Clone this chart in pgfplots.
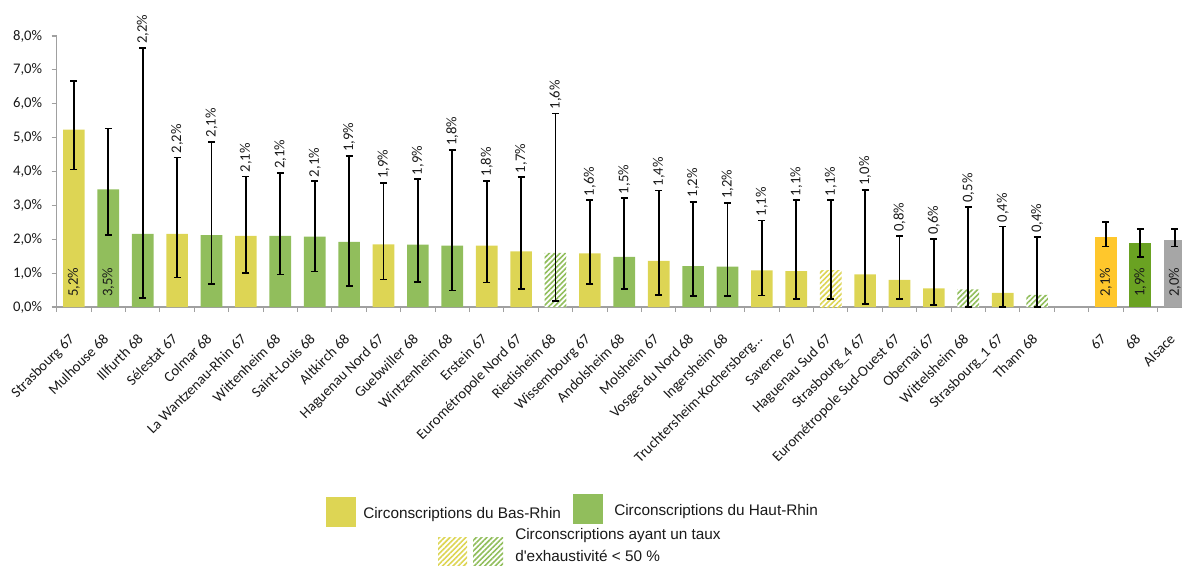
\documentclass[border=0pt]{standalone}
\usepackage{fontspec}
\setmainfont{Carlito}
\newfontfamily\legfont{Liberation Sans}
\usepackage{pgfplots}
\pgfplotsset{compat=1.18}
\usepackage{pgfplotstable}
\usetikzlibrary{patterns.meta}

\definecolor{cyel}{RGB}{221,213,84}
\definecolor{cgrn}{RGB}{145,190,92}
\definecolor{c67}{RGB}{255,199,44}
\definecolor{c68}{RGB}{106,162,34}
\definecolor{cals}{RGB}{166,166,166}
\definecolor{caxis}{RGB}{160,160,160}
\definecolor{ctxt}{RGB}{25,25,25}

% bars: x = category position, y = value (%), ep/em = error bar extent above/below (%)
\pgfplotstableread{
x y ep em
0 5.24 1.44 1.18
3 2.16 2.25 1.29
5 2.10 1.75 1.10
9 1.85 1.81 1.04
12 1.81 1.92 1.09
13 1.64 2.19 1.10
15 1.58 1.57 0.90
17 1.36 2.08 1.00
20 1.08 1.47 0.74
21 1.06 2.09 0.83
23 0.96 2.50 0.87
24 0.80 1.29 0.57
25 0.55 1.46 0.49
27 0.42 1.96 0.42
}\yellowtab
\pgfplotstableread{
x y ep em
1 3.47 1.80 1.34
2 2.16 5.48 1.89
4 2.12 2.76 1.44
6 2.10 1.85 1.14
7 2.08 1.63 1.03
8 1.92 2.54 1.30
10 1.84 1.93 1.10
11 1.81 2.82 1.32
16 1.48 1.73 0.95
18 1.21 1.90 0.89
19 1.19 1.88 0.87
}\greentab
\pgfplotstableread{
x y ep em
22 1.07 2.08 0.84
}\yellowhatch
\pgfplotstableread{
x y ep em
14 1.60 4.11 1.42
26 0.52 2.44 0.52
28 0.36 1.70 0.36
}\greenhatch
\pgfplotstableread{
x y ep em
30 2.08 0.44 0.29
}\tabA
\pgfplotstableread{
x y ep em
31 1.90 0.40 0.43
}\tabB
\pgfplotstableread{
x y ep em
32 1.99 0.31 0.20
}\tabC
% labels above the error bars (t = top of the error bar)
\pgfplotstableread{
x t lab
2 7.64 2,2
3 4.41 2,2
4 4.88 2,1
5 3.85 2,1
6 3.95 2,1
7 3.71 2,1
8 4.46 1,9
9 3.66 1,9
10 3.77 1,9
11 4.63 1,8
12 3.73 1,8
13 3.83 1,7
14 5.71 1,6
15 3.15 1,6
16 3.21 1,5
17 3.44 1,4
18 3.11 1,2
19 3.07 1,2
20 2.55 1,1
21 3.15 1,1
22 3.15 1,1
23 3.46 1,0
24 2.09 0,8
25 2.01 0,6
26 2.96 0,5
27 2.38 0,4
28 2.06 0,4
}\toplabels
% labels inside the bars
\pgfplotstableread{
x b lab
0 0 5,2
1 0 3,5
30 0 2,1
31 0 1,9
32 0 2,0
}\inlabels

\pgfplotsset{
  errbars/.style={
    error bars/.cd, y dir=both, y explicit, error mark=-,
    error bar style={draw=black, line width=1.3pt},
    error mark options={draw=black, line width=1.3pt, mark size=2.6pt, rotate=90}
  },
  bartab/.style={ybar, bar width=0.63, bar shift=0pt, draw=none},
}

\begin{document}
\begin{tikzpicture}
\begin{axis}[
  at={(42.525pt,-230.25pt)}, anchor=south west,
  scale only axis, width=851.4pt, height=203.25pt,
  xmin=-0.5, xmax=32.5, ymin=0, ymax=8,
  axis x line*=bottom, axis y line*=left,
  axis line style={caxis, line width=0.9pt},
  xtick={0,...,32},
  xticklabels={Strasbourg 67, Mulhouse 68, Illfurth 68, Sélestat 67, Colmar 68,
    La Wantzenau-Rhin 67, Wittenheim 68, Saint-Louis 68, Altkirch 68, Haguenau Nord 67,
    Guebwiller 68, Wintzenheim 68, Erstein 67, Eurométropole Nord 67, Riedisheim 68,
    Wissembourg 67, Andolsheim 68, Molsheim 67, Vosges du Nord 68, Ingersheim 68,
    Truchtersheim-Kochersberg…, Saverne 67, Haguenau Sud 67, Strasbourg\_4 67,
    Eurométropole Sud-Ouest 67, Obernai 67, Wittelsheim 68, Strasbourg\_1 67, Thann 68,
    {}, 67, 68, Alsace},
  minor xtick={-0.5,0.5,...,32.5},
  major x tick style={draw=none},
  minor x tick style={caxis, line width=0.8pt},
  ytick={0,1,2,3,4,5,6,7,8},
  yticklabels={{0,0\%},{1,0\%},{2,0\%},{3,0\%},{4,0\%},{5,0\%},{6,0\%},{7,0\%},{8,0\%}},
  y tick style={caxis, line width=0.8pt},
  tick align=outside, major tick length=3.75pt, minor tick length=3.75pt,
  x tick label style={font=\fontsize{11pt}{12pt}\selectfont, text=ctxt, anchor=north east, inner sep=0pt, xshift=-4.5pt, yshift=-15.5pt, rotate=45},
  y tick label style={font=\fontsize{11pt}{12pt}\selectfont, text=ctxt, anchor=east, inner sep=0pt, xshift=-7pt},
  clip=false,
]
\addplot[bartab, fill=cyel, errbars] table[x=x, y=y, y error plus=ep, y error minus=em] {\yellowtab};
\addplot[bartab, fill=cgrn, errbars] table[x=x, y=y, y error plus=ep, y error minus=em] {\greentab};
\addplot[bartab, fill=white, postaction={pattern={Lines[angle=45,distance=2.8pt,line width=1.2pt]}, pattern color=cyel}, errbars] table[x=x, y=y, y error plus=ep, y error minus=em] {\yellowhatch};
\addplot[bartab, fill=white, postaction={pattern={Lines[angle=45,distance=2.8pt,line width=1.2pt]}, pattern color=cgrn}, errbars] table[x=x, y=y, y error plus=ep, y error minus=em] {\greenhatch};
\addplot[bartab, fill=c67, errbars] table[x=x, y=y, y error plus=ep, y error minus=em] {\tabA};
\addplot[bartab, fill=c68, errbars] table[x=x, y=y, y error plus=ep, y error minus=em] {\tabB};
\addplot[bartab, fill=cals, errbars] table[x=x, y=y, y error plus=ep, y error minus=em] {\tabC};
\addplot[only marks, mark=none, point meta=explicit symbolic,
  nodes near coords={\pgfplotspointmeta\%},
  nodes near coords style={font=\fontsize{11pt}{12pt}\selectfont, text=ctxt, rotate=90, anchor=west, inner xsep=3pt, inner ysep=0pt}]
  table[x=x, y=t, meta=lab] {\toplabels};
\addplot[only marks, mark=none, point meta=explicit symbolic,
  nodes near coords={\pgfplotspointmeta\%},
  nodes near coords style={font=\fontsize{11pt}{12pt}\selectfont, text=ctxt, rotate=90, anchor=west, inner xsep=7.5pt, inner ysep=0pt}]
  table[x=x, y=b, meta=lab] {\inlabels};
\end{axis}
\begin{scope}[x=0.75pt, y=-0.75pt]
  \fill[cyel] (326,497) rectangle (356,527);
  \node[anchor=base west, inner sep=0pt, font=\legfont\fontsize{11.5pt}{13pt}\selectfont, text=ctxt] at (363,518.3) {Circonscriptions du Bas-Rhin};
  \fill[cgrn] (573,494) rectangle (603,524);
  \node[anchor=base west, inner sep=0pt, font=\legfont\fontsize{11.5pt}{13pt}\selectfont, text=ctxt] at (614,515) {Circonscriptions du Haut-Rhin};
  \fill[pattern={Lines[angle=45,distance=2.8pt,line width=1.2pt]}, pattern color=cyel] (438,537) rectangle (467,567);
  \fill[pattern={Lines[angle=45,distance=2.8pt,line width=1.2pt]}, pattern color=cgrn] (473,537) rectangle (503,567);
  \node[anchor=base west, inner sep=0pt, font=\legfont\fontsize{11.5pt}{13pt}\selectfont, text=ctxt] at (515,539) {Circonscriptions ayant un taux};
  \node[anchor=base west, inner sep=0pt, font=\legfont\fontsize{11.5pt}{13pt}\selectfont, text=ctxt] at (515,561.7) {d\textquotesingle{}exhaustivité < 50 \%};
\end{scope}
\pgfresetboundingbox
\path[use as bounding box] (0,0) rectangle (886.5pt,-423.75pt);
\end{tikzpicture}
\end{document}
